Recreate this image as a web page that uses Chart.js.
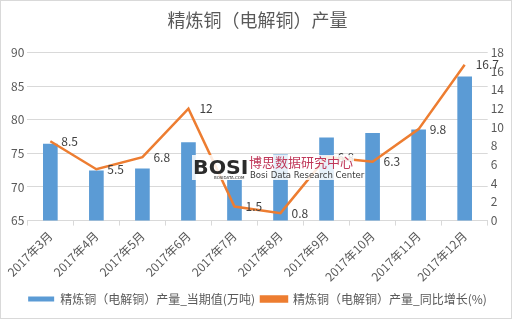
<!DOCTYPE html>
<html>
<head>
<meta charset="utf-8">
<script src="https://cdn.jsdelivr.net/npm/chart.js@4"></script>
<style>
  html, body { margin: 0; padding: 0; background: #fff; }
  .wrap { position: relative; width: 510px; height: 317px; border: 1px solid #d9d9d9; }
</style>
</head>
<body>
<div class="wrap"><canvas id="copperChart" width="510" height="317"></canvas></div>
<script>
const months = ['2017年3月', '2017年4月', '2017年5月', '2017年6月', '2017年7月', '2017年8月', '2017年9月', '2017年10月', '2017年11月', '2017年12月'];
const output = [76.4, 72.4, 72.7, 76.6, 71.0, 74.8, 77.3, 78.0, 78.5, 86.4];
const growth = [8.5, 5.5, 6.8, 12, 1.5, 0.8, 6.8, 6.3, 9.8, 16.7];
const outputLabel = '精炼铜（电解铜）产量_当期值(万吨)';
const growthLabel = '精炼铜（电解铜）产量_同比增长(%)';
const titleText = '精炼铜（电解铜）产量';

const font = '"Noto Sans CJK SC", "Noto Sans", sans-serif';
Chart.defaults.font.family = font;
Chart.defaults.color = '#595959';

// value labels to the right of each line point
const pointLabels = {
  id: 'pointLabels',
  afterDatasetsDraw(chart) {
    const c = chart.ctx;
    const meta = chart.getDatasetMeta(1);
    c.save();
    c.font = '12px ' + font;
    c.fillStyle = '#404040';
    c.textAlign = 'left';
    c.textBaseline = 'middle';
    meta.data.forEach((pt, i) => {
      c.fillText(String(growth[i]), pt.x + 11, pt.y);
    });
    c.restore();
  }
};

// watermark in the middle of the plot
const watermark = {
  id: 'watermark',
  afterDraw(chart) {
    const c = chart.ctx;
    const x = 191, y = 154;
    c.save();
    c.fillStyle = 'rgba(255,255,255,0.85)';
    c.fillRect(x, y, 162, 25);
    c.font = 'bold 25px "DejaVu Sans", sans-serif';
    c.fillStyle = '#2b2b2b';
    c.textBaseline = 'alphabetic';
    c.save();
    c.translate(x + 1, y + 19);
    c.scale(0.82, 0.8);
    c.fillText('BOSI', 0, 0);
    c.restore();
    c.font = '4px "DejaVu Sans", sans-serif';
    c.fillText('BOSIDATA.COM', x + 22, y + 24);
    c.fillStyle = '#c0395a';
    c.font = '13px ' + font;
    c.fillText('博思数据研究中心', x + 57, y + 12);
    c.fillStyle = '#3a3a3a';
    c.font = '9.5px "Liberation Sans Narrow", "DejaVu Sans Condensed", sans-serif';
    c.fillText('Bosi Data Research Center', x + 58, y + 23);
    c.restore();
  }
};

new Chart(document.getElementById('copperChart'), {
  data: {
    labels: months,
    datasets: [
      {
        type: 'bar',
        label: outputLabel,
        data: output,
        yAxisID: 'y',
        backgroundColor: '#5b9bd5',
        barThickness: 14,
        order: 2
      },
      {
        type: 'line',
        label: growthLabel,
        data: growth,
        yAxisID: 'y1',
        borderColor: '#ed7d31',
        backgroundColor: '#ed7d31',
        borderWidth: 2.5,
        pointRadius: 0,
        tension: 0,
        order: 1
      }
    ]
  },
  options: {
    responsive: false,
    animation: false,
    layout: { padding: { left: 7, right: 4, top: 4, bottom: 3 } },
    plugins: {
      title: {
        display: true,
        text: titleText,
        color: '#595959',
        font: { size: 18, weight: 'normal' },
        padding: { top: 4, bottom: 22 }
      },
      legend: {
        position: 'bottom',
        labels: {
          boxWidth: 26,
          boxHeight: 5,
          padding: 6,
          font: { size: 12 },
          color: '#595959',
          sort: (a, b) => a.datasetIndex - b.datasetIndex
        }
      },
      tooltip: { enabled: false }
    },
    scales: {
      x: {
        grid: { display: true, drawOnChartArea: false, color: '#d9d9d9', tickLength: 5, offset: true },
        border: { color: '#d9d9d9' },
        ticks: { maxRotation: 45, minRotation: 45, font: { size: 12 }, color: '#595959' }
      },
      y: {
        position: 'left',
        min: 65,
        max: 90,
        ticks: { stepSize: 5, font: { size: 12 }, color: '#595959' },
        grid: { color: '#d9d9d9', drawTicks: false },
        border: { display: false }
      },
      y1: {
        position: 'right',
        min: 0,
        max: 18,
        ticks: { stepSize: 2, font: { size: 12 }, color: '#595959' },
        grid: { drawOnChartArea: false, drawTicks: false },
        border: { display: false }
      }
    }
  },
  plugins: [pointLabels, watermark]
});
</script>
</body>
</html>
